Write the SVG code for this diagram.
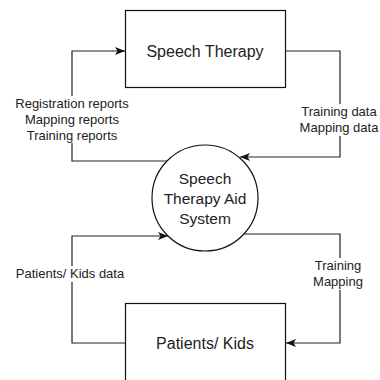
<svg xmlns="http://www.w3.org/2000/svg" width="380" height="380" viewBox="0 0 380 380">
<style>
text{font-family:"Liberation Sans",Arial,Helvetica,sans-serif;fill:#222;text-anchor:middle}
.node{fill:#fff;stroke:#111;stroke-width:1.2}
.edge{fill:none;stroke:#222;stroke-width:1.2}
.lbl{font-size:13px}
.big{font-size:16px}
.mid{font-size:15.5px}
.bg{fill:#fff;stroke:none}
</style>
<defs>
<marker id="arr" viewBox="0 0 10 8" refX="10" refY="4" markerWidth="10" markerHeight="8" markerUnits="userSpaceOnUse" orient="auto">
<path d="M0,0 L10,4 L0,8 L2.5,4 Z" fill="#111"/>
</marker>
</defs>
<rect width="380" height="380" fill="#fff"/>
<g id="connectors">
<path class="edge" d="M167,161 H72 V51 H125" marker-end="url(#arr)"/>
<path class="edge" d="M285.5,51 H340 V157 H240" marker-end="url(#arr)"/>
<path class="edge" d="M125,343 H72 V236 H168" marker-end="url(#arr)"/>
<path class="edge" d="M244,234 H340 V343 H286" marker-end="url(#arr)"/>
</g>
<g id="labels">
<g id="lbl-reports">
<rect class="bg" x="12" y="96" width="120" height="47"/>
<text class="lbl" x="72" y="108">Registration reports</text>
<text class="lbl" x="72" y="124">Mapping reports</text>
<text class="lbl" x="72" y="140">Training reports</text>
</g>
<g id="lbl-data">
<rect class="bg" x="298" y="104" width="82" height="32"/>
<text class="lbl" x="339" y="116">Training data</text>
<text class="lbl" x="339" y="132">Mapping data</text>
</g>
<g id="lbl-kids">
<rect class="bg" x="12" y="266" width="116" height="16"/>
<text class="lbl" x="70" y="278">Patients/ Kids data</text>
</g>
<g id="lbl-training">
<rect class="bg" x="312" y="258" width="54" height="32"/>
<text class="lbl" x="338" y="270">Training</text>
<text class="lbl" x="338" y="286">Mapping</text>
</g>
</g>
<g id="speech-therapy">
<rect class="node" x="125.5" y="10.5" width="160" height="77"/>
<text class="big" x="205" y="57">Speech Therapy</text>
</g>
<g id="system">
<circle class="node" cx="205" cy="198" r="53"/>
<text class="mid" x="205" y="184">Speech</text>
<text class="mid" x="205" y="204">Therapy Aid</text>
<text class="mid" x="205" y="224">System</text>
</g>
<g id="patients-kids">
<rect class="node" x="125.5" y="303.5" width="160" height="100"/>
<text class="big" x="205" y="349">Patients/ Kids</text>
</g>
</svg>
